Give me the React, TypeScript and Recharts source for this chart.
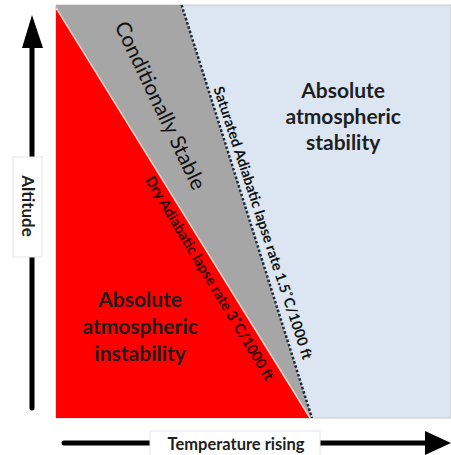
import React from "react";
import { ComposedChart, Area, Line, XAxis, YAxis, ReferenceArea, ReferenceDot } from "recharts";

// Temperature (x) vs altitude (y), arbitrary units 0..100
const dryLapse = [
  { t: 0, alt: 99.3 },
  { t: 64.3, alt: 0 },
];
const conditionalZone = [
  { t: 0, alt: 100 },
  { t: 31.8, alt: 100 },
  { t: 64.8, alt: 0 },
];
const saturatedLapse = [
  { t: 31.8, alt: 100 },
  { t: 64.8, alt: 0 },
];

const instabilityLines = ["Absolute", "atmospheric", "instability"];
const stabilityLines = ["Absolute", "atmospheric", "stability"];
const conditionalText = "Conditionally Stable";
const saturatedText = "Saturated Adiabatic lapse rate 1.5˚C/1000 ft";
const dryText = "Dry Adiabatic lapse rate 3˚C/1000 ft";
const xLabel = "Temperature rising";
const yLabel = "Altitude";

const FONT = "Lato, 'Open Sans', sans-serif";

const rotatedLabel = (text: string, angle: number, size: number, color: string, weight = 400) =>
  (props: any) => {
    const { viewBox } = props;
    const x = viewBox.x + (viewBox.width || 0) / 2;
    const y = viewBox.y + (viewBox.height || 0) / 2;
    return (
      <text
        x={x}
        y={y}
        transform={`rotate(${angle} ${x} ${y})`}
        textAnchor="middle"
        dominantBaseline="central"
        fontFamily={FONT}
        fontSize={size}
        fontWeight={weight}
        fill={color}
      >
        {text}
      </text>
    );
  };

const blockLabel = (lines: string[], size: number, gap: number) => (props: any) => {
  const { viewBox } = props;
  const x = viewBox.x + (viewBox.width || 0) / 2;
  const y = viewBox.y + (viewBox.height || 0) / 2;
  return (
    <text
      x={x}
      y={y}
      textAnchor="middle"
      dominantBaseline="central"
      fontFamily={FONT}
      fontSize={size}
      fontWeight={700}
      fill="#1e1e1e"
    >
      {lines.map((l, i) => (
        <tspan key={i} x={x} y={y + (i - (lines.length - 1) / 2) * gap}>
          {l}
        </tspan>
      ))}
    </text>
  );
};

export default function App() {
  return (
    <div style={{ position: "absolute", left: 0, top: 0, width: 451, height: 455, background: "#fff" }}>
      <ComposedChart
        width={451}
        height={455}
        margin={{ top: 5, right: 0, bottom: 37, left: 56 }}
        style={{ position: "absolute", left: 0, top: 0 }}
      >
        <XAxis type="number" dataKey="t" domain={[0, 100]} hide allowDataOverflow />
        <YAxis type="number" dataKey="alt" domain={[0, 100]} hide allowDataOverflow />
        <ReferenceArea x1={0} x2={100} y1={0} y2={100} fill="#dce6f2" fillOpacity={1} stroke="#c8c8c8" strokeWidth={1} />
        <Area
          data={conditionalZone}
          dataKey="alt"
          type="linear"
          fill="#a6a6a6"
          fillOpacity={1}
          stroke="none"
          baseValue={0}
          isAnimationActive={false}
          dot={false}
          activeDot={false}
        />
        <Area
          data={dryLapse}
          dataKey="alt"
          type="linear"
          fill="#ff0000"
          fillOpacity={1}
          stroke="none"
          baseValue={0}
          isAnimationActive={false}
          dot={false}
          activeDot={false}
        />
        <Line
          data={dryLapse}
          dataKey="alt"
          type="linear"
          stroke="#f7d6c8"
          strokeWidth={1.5}
          dot={false}
          activeDot={false}
          isAnimationActive={false}
        />
        <Line
          data={saturatedLapse}
          dataKey="alt"
          type="linear"
          stroke="#1c2a3a"
          strokeWidth={2.5}
          strokeDasharray="2.5 2"
          dot={false}
          activeDot={false}
          isAnimationActive={false}
        />
        <ReferenceDot x={26.7} y={75.8} r={0} label={rotatedLabel(conditionalText, 64.5, 21, "#111")} />
        <ReferenceDot x={52.5} y={47.3} r={0} label={rotatedLabel(saturatedText, 71.7, 14.5, "#111", 700)} />
        <ReferenceDot x={39.0} y={33.9} r={0} label={rotatedLabel(dryText, 59, 14.5, "#2a0000", 700)} />
        <ReferenceDot x={72.7} y={73.4} r={0} label={blockLabel(stabilityLines, 21, 26)} />
        <ReferenceDot x={21.3} y={22.5} r={0} label={blockLabel(instabilityLines, 21, 27)} />
      </ComposedChart>
      <svg width={451} height={455} style={{ position: "absolute", left: 0, top: 0, pointerEvents: "none" }}>
        {/* Altitude arrow */}
        <line x1={32} y1={45} x2={32} y2={408} stroke="#000" strokeWidth={5} strokeLinecap="round" />
        <polygon points="22,48 43,48 32,15" fill="#000" />
        <rect x={13} y={157} width={29} height={100} fill="#fff" stroke="#e4e4e4" strokeWidth={1} />
        <text
          x={28}
          y={206}
          transform="rotate(90 28 206)"
          textAnchor="middle"
          dominantBaseline="central"
          fontFamily={FONT}
          fontSize={17}
          fontWeight={700}
          fill="#1e1e1e"
        >
          {yLabel}
        </text>
        {/* Temperature arrow */}
        <line x1={64} y1={443} x2={428} y2={443} stroke="#000" strokeWidth={5} strokeLinecap="round" />
        <polygon points="425,431 425,455 451,443" fill="#000" />
        <rect x={150} y={431} width={170} height={26} fill="#fff" stroke="#e4e4e4" strokeWidth={1} />
        <text
          x={236}
          y={444}
          textAnchor="middle"
          dominantBaseline="central"
          fontFamily={FONT}
          fontSize={16.5}
          fontWeight={700}
          fill="#1e1e1e"
        >
          {xLabel}
        </text>
      </svg>
    </div>
  );
}
